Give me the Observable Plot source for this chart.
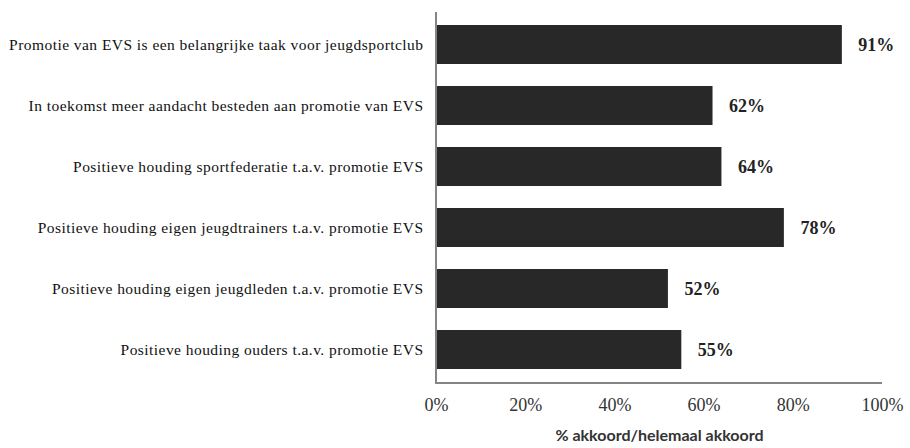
<!DOCTYPE html>
<html>
<head>
<meta charset="utf-8">
<script src="https://cdn.jsdelivr.net/npm/d3@7"></script>
<script src="https://cdn.jsdelivr.net/npm/@observablehq/plot@0.6"></script>
<style>
  html, body { margin: 0; padding: 0; background: #fff; }
  g[aria-label="y-axis tick label"] text { letter-spacing: 0.45px; }
</style>
</head>
<body>
<div id="chart"></div>
<script>
const categories = [
  "Promotie van EVS is een belangrijke taak voor jeugdsportclub",
  "In toekomst meer aandacht besteden aan promotie van EVS",
  "Positieve houding sportfederatie t.a.v. promotie EVS",
  "Positieve houding eigen jeugdtrainers t.a.v. promotie EVS",
  "Positieve houding eigen jeugdleden t.a.v. promotie EVS",
  "Positieve houding ouders t.a.v. promotie EVS"
];
const values = [0.91, 0.62, 0.64, 0.78, 0.52, 0.55];
const xTicks = [0, 0.2, 0.4, 0.6, 0.8, 1.0];
const xLabel = "% akkoord/helemaal akkoord";

const data = categories.map((c, i) => ({category: c, value: values[i]}));

const axisLines = (index, scales, values, dims) => {
  const g = d3.create("svg:g");
  const x0 = scales.x(0), x1 = scales.x(1);
  const yb = dims.height - dims.marginBottom;
  g.append("line").attr("x1", x0).attr("x2", x0).attr("y1", dims.marginTop).attr("y2", yb)
    .attr("stroke", "#858585").attr("stroke-width", 2);
  g.append("line").attr("x1", x0 - 1).attr("x2", x1).attr("y1", yb).attr("y2", yb)
    .attr("stroke", "#858585").attr("stroke-width", 2);
  return g.node();
};

const chart = Plot.plot({
  width: 910,
  height: 448,
  marginLeft: 436,
  marginRight: 28,
  marginTop: 12,
  marginBottom: 65,
  style: {background: "#fff", overflow: "visible", fontFamily: "Liberation Serif"},
  x: {domain: [0, 1], axis: null},
  y: {domain: categories, paddingInner: 0.36, paddingOuter: 0.18},
  marks: [
    Plot.barX(data, {x: "value", y: "category", fill: "#282828"}),
    Plot.text(data, {
      x: "value", y: "category",
      text: d => Math.round(d.value * 100) + "%",
      textAnchor: "start", dx: 16,
      fontFamily: "Liberation Serif", fontWeight: "bold", fontSize: 18, fill: "#222"
    }),
    Plot.axisY({
      tickSize: 0, tickPadding: 13, label: null,
      fontFamily: "Liberation Serif", fontSize: 15.5, fill: "#111"
    }),
    Plot.text(xTicks, {
      x: d => d, frameAnchor: "bottom", dy: 27,
      text: d => Math.round(d * 100) + "%",
      fontFamily: "Liberation Serif", fontSize: 18, fill: "#333"
    }),
    Plot.text([xLabel], {
      frameAnchor: "bottom", dy: 57, text: d => d,
      fontFamily: "Lato", fontWeight: 700, fontSize: 16, fill: "#333"
    }),
    axisLines
  ]
});
document.getElementById("chart").appendChild(chart);
</script>
</body>
</html>
